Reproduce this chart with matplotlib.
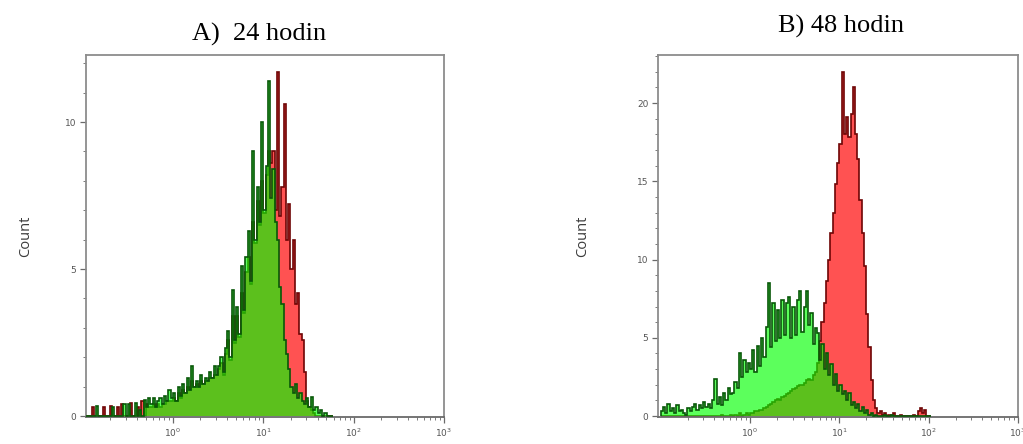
import numpy as np
import matplotlib
matplotlib.use("Agg")
import matplotlib.pyplot as plt
from matplotlib.ticker import FixedLocator, LogLocator, MultipleLocator, NullFormatter

# histogram bins: uniform in log10 space, 0.025 decade wide, starting at 10^-1
LOG_START = -1.0
LOG_STEP = 0.025

# A) 24 hodin
green_24 = [
    0, 0, 0, 0, 0, 0, 0.35, 0, 0, 0,
    0, 0, 0, 0.3, 0, 0, 0, 0, 0.4, 0,
    0.4, 0, 0, 0.45, 0, 0.2, 0, 0.55, 0.3, 0.6,
    0.4, 0.6, 0.3, 0.5, 0.6, 0.4, 0.7, 0.5, 0.9, 0.6,
    0.8, 0.5, 1.0, 0.7, 1.1, 0.8, 1.3, 0.9, 1.7, 1.0,
    1.2, 1.0, 1.4, 1.1, 1.3, 1.2, 1.5, 1.3, 1.7, 1.4,
    1.7, 2.0, 1.5, 2.3, 2.9, 2.0, 4.3, 2.6, 3.7, 2.8,
    5.1, 3.6, 5.4, 6.3, 4.6, 9.0, 6.0, 7.8, 6.6, 10.0,
    7.0, 8.5, 11.4, 7.4, 8.4, 6.6, 6.0, 4.4, 3.8, 2.6,
    2.1, 1.6, 1.0, 0.8, 1.1, 0.6, 0.8, 0.5, 0.4, 0.6,
    0.3, 0.65, 0.2, 0.3, 0.1, 0.2, 0, 0.1, 0, 0, 0,
]
red_24 = [
    0, 0, 0, 0, 0.3, 0, 0, 0, 0, 0.3,
    0, 0, 0.35, 0, 0, 0.3, 0, 0.4, 0, 0,
    0, 0.45, 0, 0, 0.3, 0, 0.5, 0, 0.4, 0.3,
    0.3, 0.4, 0.3, 0.4, 0.3, 0.4, 0.4, 0.5, 0.5, 0.5,
    0.6, 0.5, 0.8, 0.6, 0.9, 0.8, 1.0, 0.9, 1.2, 1.0,
    1.1, 1.0, 1.2, 1.1, 1.2, 1.2, 1.3, 1.3, 1.4, 1.4,
    1.6, 1.8, 1.4, 2.1, 2.6, 1.9, 3.4, 2.5, 3.4, 2.7,
    4.2, 3.5, 4.9, 5.4, 4.5, 6.6, 5.9, 7.3, 6.5, 8.0,
    6.9, 8.2, 9.0, 8.6, 9.0, 7.0, 11.7, 6.8, 7.8, 10.6,
    6.0, 7.2, 5.0, 6.0, 3.8, 4.2, 2.8, 2.6, 1.5, 0.5,
    0.3, 0.2, 0.1, 0, 0, 0, 0, 0, 0, 0, 0,
]

# B) 48 hodin
green_48 = [
    0.3, 0.6, 0.2, 0.8, 0.3, 0.5, 0.2, 0.7, 0.3, 0.4,
    0.2, 0.1, 0.5, 0.3, 0.6, 0.8, 0.4, 0.7, 0.5, 0.9,
    0.6, 0.8, 0.5, 1.0, 2.4, 0.8, 1.2, 0.7, 1.5, 1.0,
    1.8, 1.4, 1.5, 2.2, 1.8, 4.0, 2.5, 3.6, 2.8, 3.4,
    3.0, 4.2, 2.8, 4.5, 3.2, 5.0, 3.8, 5.7, 8.5, 4.4,
    7.2, 4.8, 6.8, 5.0, 7.4, 5.2, 7.2, 7.6, 5.0, 7.0,
    5.2, 7.4, 8.0, 5.4, 7.0, 8.0, 5.8, 6.6, 4.6, 5.6,
    5.3, 3.6, 4.6, 3.0, 4.0, 2.6, 3.3, 2.0, 2.7, 1.6,
    2.0, 1.4, 1.6, 1.0, 1.5, 0.7, 0.9, 0.5, 0.8, 0.3,
    0.6, 0.2, 0.4, 0.1, 0.2, 0, 0.1, 0, 0, 0,
    0.1, 0, 0, 0.1, 0, 0, 0, 0, 0, 0,
    0, 0, 0, 0, 0, 0, 0, 0, 0, 0, 0,
]
red_48 = [
    0, 0, 0, 0, 0, 0, 0, 0, 0, 0,
    0, 0, 0, 0, 0, 0, 0, 0, 0, 0,
    0, 0, 0, 0, 0, 0, 0, 0.1, 0, 0,
    0, 0.1, 0, 0.1, 0, 0.2, 0, 0.1, 0.2, 0.1,
    0.2, 0.2, 0.3, 0.3, 0.4, 0.4, 0.5, 0.6, 0.7, 0.8,
    0.9, 1.0, 1.1, 1.0, 1.2, 1.3, 1.4, 1.5, 1.6, 1.7,
    1.8, 1.9, 2.0, 2.0, 2.1, 2.3, 2.4, 2.3, 2.6, 2.8,
    3.4, 4.8, 6.0, 7.2, 8.6, 10.0, 11.7, 13.0, 14.8, 16.2,
    17.4, 22.0, 18.0, 19.1, 17.8, 19.3, 21.0, 18.0, 16.4, 13.8,
    11.7, 9.6, 6.5, 4.4, 2.3, 1.0, 0.5, 0.2, 0.3, 0.1,
    0.2, 0, 0.1, 0, 0.2, 0, 0, 0.1, 0, 0,
    0, 0, 0, 0.1, 0, 0.3, 0.5, 0.2, 0.4, 0, 0,
]

panels = [
    ("A)  24 hodin", red_24, green_24, 12.28),
    ("B) 48 hodin", red_48, green_48, 23.07),
]

RED_FILL = "#ff5252"
RED_EDGE = "#6e0505"
GREEN_FILL = "#00ff00"
GREEN_EDGE = "#085808"
FRAME = "#8c8c8c"


def bin_edges(n):
    return 10 ** (LOG_START + LOG_STEP * np.arange(n + 1))


fig = plt.figure(figsize=(10.23, 4.44), dpi=100)
axes_rects = [
    [86 / 1023, 27 / 444, 358 / 1023, 362 / 444],
    [658 / 1023, 27 / 444, 360 / 1023, 362 / 444],
]
title_pos = [(259 / 1023, 1 - 41 / 444), (841 / 1023, 1 - 33 / 444)]
label_x = [-0.148, -0.189]
xmins = [10 ** -0.963, 10 ** -1.03]

for k, (title, red, green, ymax) in enumerate(panels):
    ax = fig.add_axes(axes_rects[k])
    edges = bin_edges(len(red))
    ax.stairs(red, edges, fill=True, color=RED_FILL, zorder=1)
    ax.stairs(red, edges, color=RED_EDGE, lw=1.2, zorder=2)
    ax.stairs(green, edges, fill=True, color=GREEN_FILL, alpha=0.64, zorder=3)
    ax.stairs(green, edges, color=GREEN_EDGE, lw=1.2, zorder=4)

    ax.set_xscale("log")
    ax.set_xlim(xmins[k], 1e3)
    ax.set_ylim(-0.03 * ymax / 12, ymax)
    ax.xaxis.set_major_locator(FixedLocator([1, 10, 100, 1000]))
    ax.xaxis.set_minor_locator(LogLocator(base=10, subs=np.arange(2, 10), numticks=10))
    ax.xaxis.set_minor_formatter(NullFormatter())
    ax.yaxis.set_major_locator(MultipleLocator(5))
    ax.yaxis.set_minor_locator(MultipleLocator(1))

    for s in ax.spines.values():
        s.set_color(FRAME)
        s.set_linewidth(1.3)
    ax.spines["bottom"].set_color("#6a6a6a")
    ax.tick_params(which="major", direction="out", length=4, width=0.9,
                   color="#6a6a6a", labelsize=6.5, labelcolor="#555555", pad=3)
    ax.tick_params(which="minor", direction="out", length=2, width=0.7,
                   color="#7a7a7a")

    ax.set_ylabel("Count", fontsize=10.5, color="#3c3c3c", family="Open Sans")
    ax.yaxis.set_label_coords(label_x[k], 0.5)

    fig.text(title_pos[k][0], title_pos[k][1], title, ha="center", va="baseline",
             fontsize=19, family="Liberation Serif", color="black")

fig.savefig("out.png", dpi=100, facecolor="white")
